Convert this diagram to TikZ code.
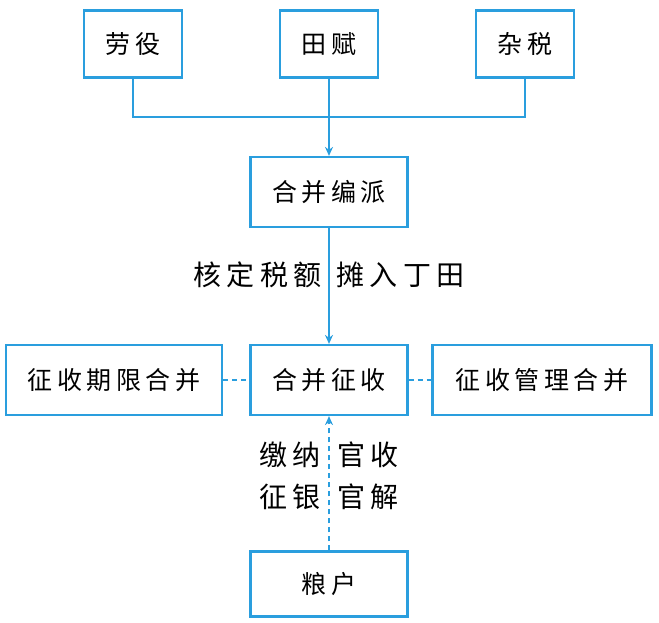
\documentclass[tikz,border=0pt]{standalone}
\usepackage{fontspec}
\newfontfamily\boxfont[LetterSpace=18]{Noto Sans CJK SC}
\newfontfamily\notefont[LetterSpace=20]{Noto Sans CJK SC}
\usetikzlibrary{arrows.meta}
\definecolor{lineblue}{RGB}{42,158,222}

\begin{document}
\begin{tikzpicture}[x=1pt, y=-1pt,
    taxbox/.style={draw=lineblue, line width=2.2pt, minimum height=67pt, inner sep=0pt,
      font=\boxfont\fontsize{25}{30}\selectfont},
    note/.style={inner sep=0pt, align=left, font=\notefont\fontsize{28}{42}\selectfont},
    link/.style={draw=lineblue, line width=1.8pt},
    tip/.style={-{Stealth[length=9pt, width=8pt]}},
    dots/.style={dash pattern=on 5pt off 4pt}]
    \useasboundingbox (0, 0) rectangle (659, 623);
    \node[taxbox, minimum width=98pt] (laoyi) at (133, 44) {劳役};
    \node[taxbox, minimum width=98pt] (tianfu) at (329, 44) {田赋};
    \node[taxbox, minimum width=98pt] (zashui) at (525, 44) {杂税};
    \node[taxbox, minimum width=157pt, minimum height=70pt] (bianpai) at (329, 192) {合并编派};
    \node[taxbox, minimum width=157pt, minimum height=70pt] (zhengshou) at (329, 380) {合并征收};
    \node[taxbox, minimum width=216pt, minimum height=70pt] (qixian) at (114, 380) {征收期限合并};
    \node[taxbox, minimum width=219pt, minimum height=70pt] (guanli) at (542, 380) {征收管理合并};
    \node[taxbox, minimum width=157pt, minimum height=65pt] (lianghu) at (329, 584) {粮户};
    \coordinate (hub) at (329, 117);
    \node[note, anchor=east] (heding) at (322, 275) {核定税额};
    \node[note, anchor=west] (tanru) at (336, 275) {摊入丁田};
    \node[note, anchor=east] (jiaona) at (321, 476) {缴纳\\征银};
    \node[note, anchor=west] (guanshou) at (337, 476) {官收\\官解};
    \draw[link] (laoyi.south) |- (hub) -| (zashui.south);
    \draw[link, tip] (tianfu.south) -- (bianpai.north);
    \draw[link, tip] (bianpai.south) -- (zhengshou.north);
    \draw[link, dots] (qixian.east) -- (zhengshou.west);
    \draw[link, dots] (zhengshou.east) -- (guanli.west);
    \draw[link, dots, tip] (lianghu.north) -- (zhengshou.south);
  \end{tikzpicture}
\end{document}
